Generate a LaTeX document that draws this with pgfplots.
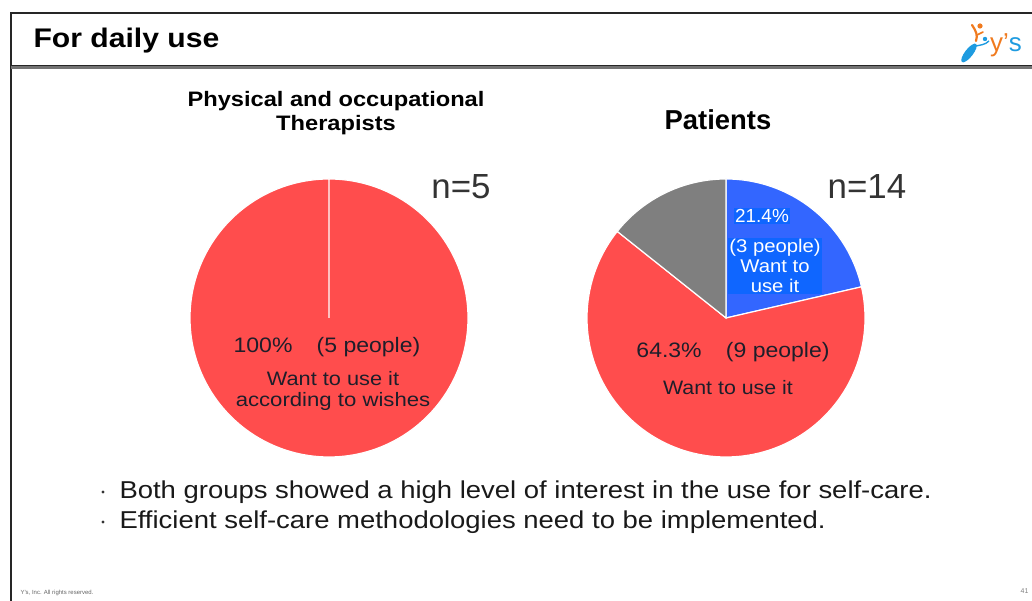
\documentclass[border=0pt]{standalone}
\usepackage{pgfplots}
\pgfplotsset{compat=1.18}
\usepgfplotslibrary{polar}
\usepackage{pgfplotstable}
\usepackage{fontspec}
\setmainfont{Liberation Sans}
\definecolor{pred}{HTML}{FF4D4D}
\definecolor{pblue}{HTML}{3366FF}
\definecolor{pgray}{HTML}{7F7F7F}
\definecolor{lblue}{HTML}{0F66FF}
\definecolor{txt}{HTML}{1E1E2A}
\definecolor{logoblue}{HTML}{1E9BE0}
\definecolor{logoorange}{HTML}{F07A1E}

% shares of each pie (percent)
\pgfplotstableread{
group pct
want 100
}\therapists
\pgfplotstableread{
group pct
wantnow 21.4
want 64.3
other 14.3
}\patients

\pgfplotstablegetelem{0}{pct}\of\therapists \let\tA\pgfplotsretval
\pgfplotstablegetelem{0}{pct}\of\patients \let\pA\pgfplotsretval
\pgfplotstablegetelem{1}{pct}\of\patients \let\pB\pgfplotsretval
\pgfplotstablegetelem{2}{pct}\of\patients \let\pC\pgfplotsretval
\pgfmathsetmacro{\tEnd}{90-3.6*\tA}
\pgfmathsetmacro{\pAend}{90-3.6*\pA}
\pgfmathsetmacro{\pBend}{\pAend-3.6*\pB}
\pgfmathsetmacro{\pCend}{\pBend-3.6*\pC}

\newcommand{\hs}[2]{\scalebox{#1}[1]{#2}}

\begin{document}
\begin{tikzpicture}[x=1bp,y=1bp]
\useasboundingbox (0,0) rectangle (1032,601);
% slide frame
\draw[line width=1.6bp, black!85] (11,0) -- (11,588) -- (1032,588);
\draw[line width=2.5bp, black!55] (11,533.5) -- (1032,533.5);
\draw[line width=0.8bp, black!85] (11,535.5) -- (1032,535.5);
\node[anchor=west, font=\fontsize{27}{30}\selectfont\bfseries] at (30,560) {\hs{1.12}{For daily use}};
% logo
\fill[logoorange] (980,575) circle (2.6);
\draw[logoorange, line width=2.2bp, line cap=round] (972,576) .. controls (976,570) and (978,566) .. (976,560);
\draw[logoorange, line width=1.6bp, line cap=round] (977,566) -- (983,569);
\fill[logoblue, rotate around={52:(969,548)}] (969,548) ellipse (11.5 and 4);
\fill[logoblue] (985,562) circle (2.2);
\draw[logoblue, line width=1.4bp] (976,555) .. controls (980,556) and (985,556) .. (989,560);
\node[anchor=west, inner sep=0pt, font=\fontsize{26}{30}\selectfont] at (990,556) {{\color{logoorange}y'}{\color{logoblue}s}};

% titles
\node[align=center, font=\fontsize{21}{24}\selectfont\bfseries] at (336,488) {\hs{1.13}{Physical and occupational}\\\hs{1.13}{Therapists}};
\node[font=\fontsize{27.5}{30}\selectfont\bfseries] at (718,481) {Patients};
\node[text=black!80, font=\fontsize{35}{38}\selectfont] at (461,414) {n=5};
\node[text=black!80, font=\fontsize{35}{38}\selectfont] at (867,414) {n=14};

% left pie
\begin{polaraxis}[at={(329bp,283bp)}, anchor=center, hide axis, scale only axis,
  width=278bp, height=278bp, ymin=0, ymax=1, clip=false]
\addplot[fill=pred, draw=white, line width=1.2pt, domain=\tEnd:90, samples=181] {1} -- (axis cs:0,0) -- cycle;
\end{polaraxis}

% right pie
\begin{polaraxis}[at={(726bp,283bp)}, anchor=center, hide axis, scale only axis,
  width=278bp, height=278bp, ymin=0, ymax=1, clip=false]
\addplot[fill=pblue, draw=white, line width=1.2pt, domain=\pAend:90, samples=60] {1} -- (axis cs:0,0) -- cycle;
\addplot[fill=pred, draw=white, line width=1.2pt, domain=\pBend:\pAend, samples=120] {1} -- (axis cs:0,0) -- cycle;
\addplot[fill=pgray, draw=white, line width=1.2pt, domain=\pCend:\pBend, samples=40] {1} -- (axis cs:0,0) -- cycle;
\end{polaraxis}

% labels left pie
\node[text=txt, font=\fontsize{21}{24}\selectfont] at (327,254) {\hs{1.1}{100\%\hspace{22bp}(5 people)}};
\node[text=txt, align=center, font=\fontsize{19.5}{22}\selectfont] at (333,210) {\hs{1.12}{Want to use it}\\\hs{1.14}{according to wishes}};

% labels right pie
\node[fill=lblue, text=white, inner sep=1.5bp, font=\fontsize{19}{22}\selectfont] at (762,385) {21.4\%};
\node[fill=lblue, text=white, inner sep=1.5bp, minimum width=94bp, align=center, font=\fontsize{18.5}{20}\selectfont] at (775,335) {\hs{1.1}{(3 people)}\\\hs{1.1}{Want to}\\\hs{1.1}{use it}};
\node[text=txt, font=\fontsize{21}{24}\selectfont] at (733,249) {\hs{1.1}{64.3\%\hspace{22bp}(9 people)}};
\node[text=txt, font=\fontsize{19.5}{22}\selectfont] at (728,213) {\hs{1.1}{Want to use it}};

% bullets
\fill[black!80] (103,109) circle (1.6);
\fill[black!80] (103,79) circle (1.6);
\node[anchor=west, text=black!90, font=\fontsize{24.5}{28}\selectfont] at (116,109) {\hs{1.125}{Both groups showed a high level of interest in the use for self-care.}};
\node[anchor=west, text=black!90, font=\fontsize{24.5}{28}\selectfont] at (116,79) {\hs{1.125}{Efficient self-care methodologies need to be implemented.}};

% footer
\node[anchor=west, text=black!60, font=\fontsize{6}{7}\selectfont] at (17,8) {Y's, Inc. All rights reserved.};
\node[anchor=east, text=black!50, font=\fontsize{7}{8}\selectfont] at (1032,10) {41};
\end{tikzpicture}
\end{document}
